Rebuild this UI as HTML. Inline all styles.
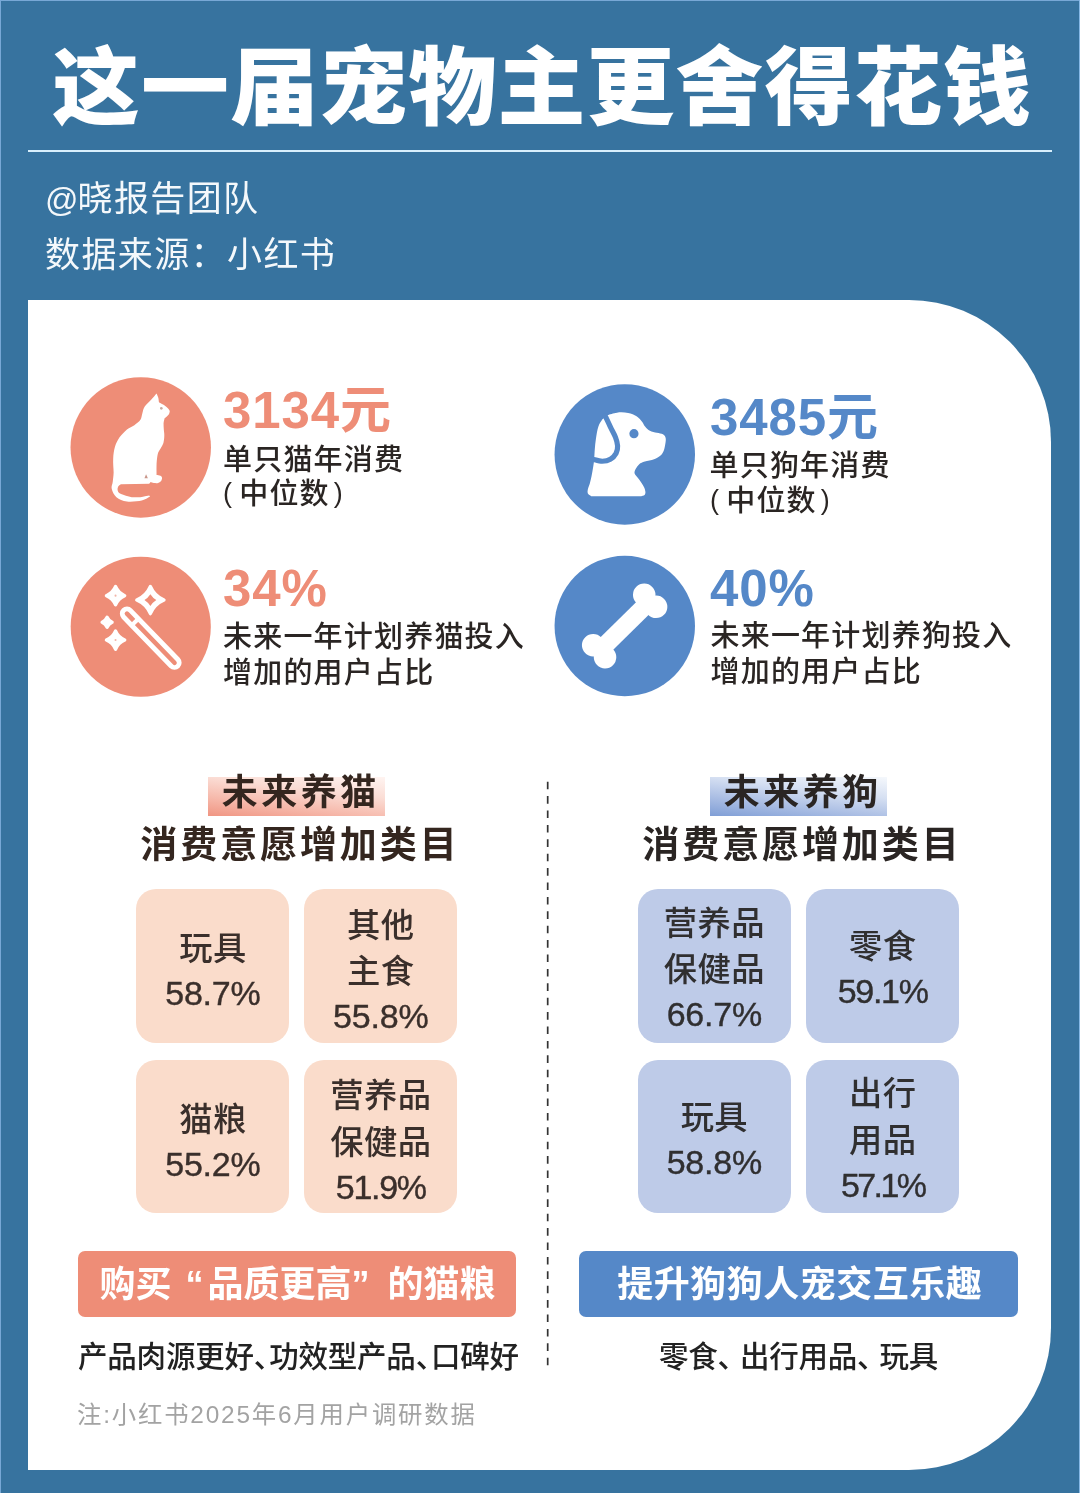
<!DOCTYPE html>
<html lang="zh-CN">
<head>
<meta charset="utf-8">
<title>这一届宠物主更舍得花钱</title>
<style>
*{margin:0;padding:0;box-sizing:border-box;}
html,body{width:1080px;height:1493px;overflow:hidden;}
body{background:#37739f;font-family:"Liberation Sans","Noto Sans CJK SC",sans-serif;position:relative;color:#2a2523;}
.abs{position:absolute;white-space:nowrap;}
.edge-l{left:0;top:0;width:1px;height:1493px;background:#78a8d6;}
.edge-t{left:0;top:0;width:1080px;height:1px;background:#78a8d6;}
.edge-r{left:1079px;top:0;width:1px;height:1493px;background:#86b8e6;}
.title{left:52px;top:24px;font-size:88px;font-weight:900;color:#fff;line-height:128px;letter-spacing:1.1px;transform:scaleY(0.972);transform-origin:0 104px;}
.rule{left:28px;top:150px;width:1024px;height:2px;background:#d8effc;}
.sub{left:45px;font-size:35px;font-weight:400;color:#f4f8fb;letter-spacing:1.4px;line-height:44px;}
.panel{left:28px;top:300px;width:1023px;height:1170px;background:#fff;border-radius:0 142px 142px 0;}
.salmon{background:#ee8d77;}
.blue{background:#5588c8;}
.big{font-size:51px;font-weight:700;line-height:54px;letter-spacing:0.9px;}
.big.s{color:#ee8d77;}
.big.b{color:#5588c8;}
.t29{font-size:29px;line-height:36px;letter-spacing:1.2px;color:#2a2523;font-weight:500;}
.pl,.pr{position:relative;top:-2.5px;font-size:27px;}
.pl{margin-right:6px;}.pr{margin-left:4px;}
.hl{height:36px;}
.hl.s{background:linear-gradient(187deg,#fff4f1 0%,#fbddd5 35%,#f6b8aa 70%,#f09582 100%);}
.hl.b{background:linear-gradient(187deg,#f5f8fc 0%,#d6e0f2 35%,#a8bce3 70%,#7f9ed6 100%);}
.h1{font-size:36px;font-weight:700;letter-spacing:3.5px;padding-left:3.5px;line-height:44px;text-align:center;}
.h2{font-size:37px;font-weight:700;letter-spacing:2.9px;padding-left:2.9px;line-height:46px;text-align:center;}
.box{width:153px;height:153.4px;border-radius:20px;display:flex;flex-direction:column;align-items:center;justify-content:center;text-align:center;font-size:33.3px;line-height:46.6px;color:#3a2f2b;letter-spacing:0.4px;font-weight:500;padding-top:13.5px;}
.box .n{position:relative;top:-2.7px;font-size:34px;letter-spacing:-0.2px;-webkit-text-stroke:0.4px #3a2f2b;}
.box.s{background:#fadccb;}
.box.b{background:#becbe8;color:#302f30;width:153.3px;padding-top:9.5px;}
.box.b .n{-webkit-text-stroke-color:#302f30;}
.box .n1{letter-spacing:-1.3px;}
.box .n2{letter-spacing:-2.6px;}
.banner{width:439px;height:65.8px;border-radius:7px;color:#fff;font-size:36px;font-weight:700;line-height:68.6px;text-align:center;letter-spacing:0;}
.q{line-height:0;display:inline-block;width:36px;text-align:center;position:relative;}
.q.l{left:4.5px;}.q.r{left:-9.5px;}
.desc{font-size:29.5px;line-height:40px;color:#222;font-weight:500;letter-spacing:-0.2px;}
.desc i{font-style:normal;margin-right:-14px;}
.desc.w i{margin-right:-7px;}
.note{left:77px;top:1398px;font-size:24.4px;line-height:34px;color:#a3a3a3;letter-spacing:1.8px;}
</style>
</head>
<body>
<div class="abs edge-t"></div><div class="abs edge-l"></div><div class="abs edge-r"></div>
<div class="abs title">这一届宠物主更舍得花钱</div>
<div class="abs rule"></div>
<div class="abs sub" style="top:177px;"><span style="letter-spacing:-1px;font-size:33px">@</span>晓报告团队</div>
<div class="abs sub" style="top:233px;">数据来源：小红书</div>
<div class="abs panel"></div>

<!-- stats -->
<svg class="abs ico" style="left:60px;top:360px;" width="160" height="160" viewBox="0 0 1080 1080">
<circle cx="545" cy="590" r="474" fill="#ee8d77"/>
<path fill="#fff" d="M652 226 C654 231 661 247 664 257 C666 267 667 280 668 285 C673 288 686 294 696 301 C706 307 720 318 728 326 C735 333 739 341 741 344 C740 348 740 359 734 368 C728 376 710 390 706 394 C705 400 700 416 699 429 C699 442 700 459 701 472 C702 486 705 495 704 510 C704 525 702 545 698 560 C693 575 685 585 679 598 C672 610 664 618 660 635 C656 652 654 674 652 698 C651 721 652 763 652 776 C657 777 671 778 678 782 C684 785 688 790 689 796 C689 802 685 814 681 819 C676 825 670 828 662 830 C654 832 642 831 634 830 C625 829 616 825 612 824 L602 836 L412 839 C409 841 397 847 393 854 C389 861 387 873 390 882 C393 890 396 898 412 905 C428 912 460 922 484 926 C507 929 533 926 552 924 C572 922 594 916 602 915 L608 921 C598 926 578 942 552 948 C527 953 481 959 452 955 C424 951 398 940 381 926 C363 911 354 887 349 869 C345 852 354 841 356 822 C358 804 361 786 362 760 C362 734 357 695 359 666 C360 637 364 609 371 585 C379 561 389 542 402 522 C416 503 436 483 452 469 C469 456 487 451 502 440 C518 429 534 417 543 404 C552 390 551 375 556 360 C560 345 561 331 571 316 C581 301 601 284 615 269 C629 254 646 233 652 226 Z"/>
<circle cx="684" cy="326" r="9" fill="#c9aba1"/>
<path fill="#c9968a" d="M581 772 L593 798 L570 798Z"/>
</svg>
<svg class="abs ico" style="left:60px;top:546px;" width="160" height="160" viewBox="0 0 1080 1080">
<circle cx="545" cy="545" r="473" fill="#ee8d77"/>
<g stroke-linecap="round" fill="none">
<path d="M452 457 L773 788" stroke="#fff" stroke-width="96"/>
<path d="M452 457 L773 788" stroke="#ee8d77" stroke-width="31"/>
<path d="M474 545 L538 483" stroke="#fff" stroke-width="28" stroke-linecap="butt"/>
</g>
<g fill="#fff" stroke="#fff" stroke-width="22" stroke-linejoin="round">
<path d="M375 273 Q393.6 316.4 437 335 Q393.6 353.6 375 397 Q356.4 353.6 313 335 Q356.4 316.4 375 273Z"/>
<path d="M610 273 Q637.6 337.4 702 365 Q637.6 392.6 610 457 Q582.4 392.6 518 365 Q582.4 337.4 610 273Z"/>
<path d="M318 481 Q328.2 504.8 352 515 Q328.2 525.2 318 549 Q307.8 525.2 284 515 Q307.8 504.8 318 481Z"/>
<path d="M375 573 Q393.6 616.4 437 635 Q393.6 653.6 375 697 Q356.4 653.6 313 635 Q356.4 616.4 375 573Z"/>
</g>
<path fill="#ee8d77" d="M610 325 Q626.0 349.0 650 365 Q626.0 381.0 610 405 Q594.0 381.0 570 365 Q594.0 349.0 610 325Z"/>
<circle cx="375" cy="335" r="7" fill="#f0b5a8"/>
<circle cx="375" cy="635" r="7" fill="#f0b5a8"/>
</svg>
<svg class="abs ico" style="left:545px;top:375px;" width="160" height="160" viewBox="0 0 1080 1080">
<circle cx="538.5" cy="536" r="474" fill="#5588c8"/>
<path fill="#fff" d="M424 270 C434 267 463 256 486 254 C509 251 539 252 561 256 C583 260 602 268 618 278 C633 287 645 303 655 315 C665 327 668 339 677 349 C686 360 695 369 708 376 C721 383 740 386 755 390 C770 394 786 394 796 400 C806 406 812 414 814 424 C817 435 815 451 812 465 C810 479 807 496 802 509 C796 522 791 533 780 543 C769 553 754 561 736 568 C719 575 690 578 674 584 C657 589 646 594 636 602 C626 611 618 623 612 634 C607 644 602 654 605 665 C608 676 623 688 633 702 C643 717 659 738 666 752 C674 767 677 780 678 790 C678 800 676 805 672 810 C667 815 654 817 650 819 L312 819 C309 816 297 810 292 804 C288 797 286 790 288 779 C289 767 297 750 302 734 C306 718 311 701 314 684 C318 666 321 645 324 628 C327 610 329 598 331 578 C333 557 334 528 336 502 C338 478 340 453 344 428 C348 402 353 370 360 349 C367 328 382 309 386 301 L424 270 Z"/>
<path fill="none" stroke="#5588c8" stroke-width="35" stroke-linecap="round" d="M406 276 C412 289 431 328 442 352 C454 377 468 400 476 421 C484 442 489 460 490 478 C491 495 488 512 480 528 C472 543 457 560 441 569 C426 578 406 582 386 582 C367 582 334 571 324 569 "/>
<circle cx="600.5" cy="396" r="31" fill="#5588c8"/>
</svg>
<svg class="abs ico" style="left:545px;top:546px;" width="160" height="160" viewBox="0 0 1080 1080">
<circle cx="538.5" cy="540" r="474" fill="#5588c8"/>
<g fill="#fff" transform="translate(537.5 540) rotate(-44.6)">
<rect x="-242" y="-60" width="484" height="120"/>
<circle cx="-242" cy="-57" r="76"/><circle cx="-242" cy="57" r="76"/>
<circle cx="242" cy="-57" r="76"/><circle cx="242" cy="57" r="76"/>
</g>
</svg>

<div class="abs big s" style="left:223px;top:384px;">3134元</div>
<div class="abs t29" style="left:223px;top:442px;">单只猫年消费</div>
<div class="abs t29" style="left:223px;top:476px;"><span class="pl">(</span>中位数<span class="pr">)</span></div>
<div class="abs big s" style="left:223px;top:562px;">34%</div>
<div class="abs t29" style="left:223px;top:619px;">未来一年计划养猫投入</div>
<div class="abs t29" style="left:223px;top:655px;">增加的用户占比</div>

<div class="abs big b" style="left:710px;top:390.5px;">3485元</div>
<div class="abs t29" style="left:709.5px;top:448px;">单只狗年消费</div>
<div class="abs t29" style="left:710px;top:483px;"><span class="pl">(</span>中位数<span class="pr">)</span></div>
<div class="abs big b" style="left:710px;top:562px;">40%</div>
<div class="abs t29" style="left:710.5px;top:617.5px;">未来一年计划养狗投入</div>
<div class="abs t29" style="left:710.5px;top:653.5px;">增加的用户占比</div>

<!-- sections -->
<div class="abs hl s" style="left:208.3px;top:776.8px;width:177px;height:39.1px;"></div>
<div class="abs h1" style="left:149px;top:770.5px;width:300px;color:#34261f;">未来养猫</div>
<div class="abs h2" style="left:98.5px;top:822.5px;width:400px;color:#34261f;">消费意愿增加类目</div>

<div class="abs hl b" style="left:710px;top:776.5px;width:177.4px;height:39.4px;"></div>
<div class="abs h1" style="left:651px;top:770.5px;width:300px;">未来养狗</div>
<div class="abs h2" style="left:600.5px;top:823px;width:400px;">消费意愿增加类目</div>

<svg class="abs" style="left:540px;top:770px;" width="16" height="610" viewBox="0 0 16 610"><line x1="7.7" y1="11.7" x2="7.7" y2="595.5" stroke="#333" stroke-width="1.7" stroke-dasharray="7.6 6.8"/></svg>

<div class="abs box s" style="left:136.4px;top:889.3px;">玩具<br><span class="n">58.7%</span></div>
<div class="abs box s" style="left:304.3px;top:889.3px;">其他<br>主食<br><span class="n">55.8%</span></div>
<div class="abs box s" style="left:136.4px;top:1059.8px;">猫粮<br><span class="n">55.2%</span></div>
<div class="abs box s" style="left:304.3px;top:1059.8px;">营养品<br>保健品<br><span class="n n1">51.9%</span></div>

<div class="abs box b" style="left:637.7px;top:889.3px;">营养品<br>保健品<br><span class="n">66.7%</span></div>
<div class="abs box b" style="left:806px;top:889.3px;">零食<br><span class="n n1">59.1%</span></div>
<div class="abs box b" style="left:637.7px;top:1059.8px;">玩具<br><span class="n">58.8%</span></div>
<div class="abs box b" style="left:806px;top:1059.8px;">出行<br>用品<br><span class="n n2">57.1%</span></div>

<div class="abs banner salmon" style="left:77.8px;top:1250.9px;width:438.6px;text-indent:1px;">购买<span class="q l">“</span>品质更高<span class="q r">”</span>的猫粮</div>
<div class="abs banner blue" style="left:579px;top:1250.9px;letter-spacing:0.5px;text-indent:2.5px;">提升狗狗人宠交互乐趣</div>

<div class="abs desc" style="left:78px;top:1337px;">产品肉源更好<i>、</i>功效型产品<i>、</i>口碑好</div>
<div class="abs desc w" style="left:579px;top:1337px;width:439px;text-align:center;">零食<i>、</i>出行用品<i>、</i>玩具</div>
<div class="abs note">注:小红书2025年6月用户调研数据</div>
</body>
</html>
